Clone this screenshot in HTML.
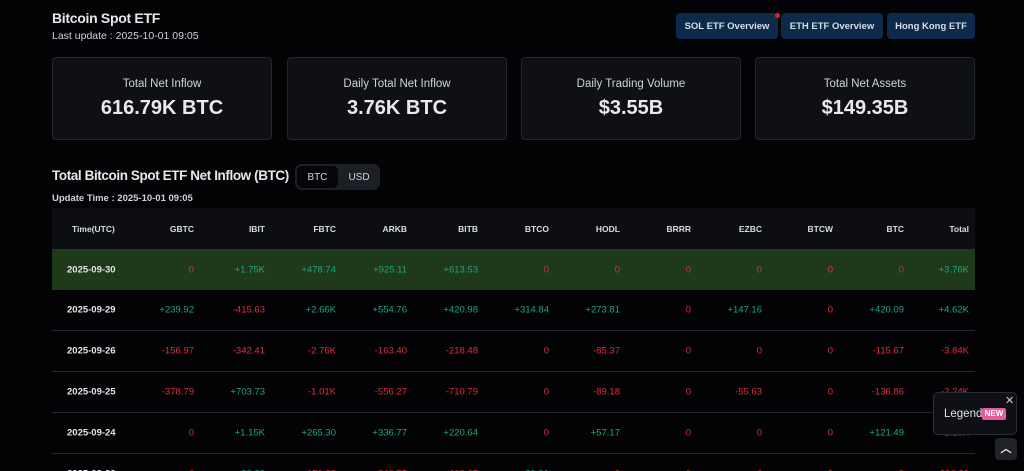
<!DOCTYPE html>
<html style="width:1024px;height:471px;overflow:hidden"><head><meta charset="utf-8"><style>
*{margin:0;padding:0;box-sizing:border-box}
body{width:1024px;height:471px;overflow:hidden;background:#030305;font-family:"Liberation Sans",sans-serif;color:#e6e8eb;position:relative}
.a{position:absolute}
.btn{position:absolute;top:13px;height:26px;background:#0d2a4a;border-radius:4px;color:#d6dde6;font-size:9.5px;font-weight:bold;display:flex;align-items:center;justify-content:center}
.card{position:absolute;top:57px;width:220px;height:83px;background:#0e1015;border:1px solid #23262c;border-radius:4px;text-align:center}
.card .l{margin-top:20px;font-size:11.5px;color:#cfd3d8}
.card .v{margin-top:7px;font-size:20px;font-weight:bold;color:#e8eaed}
.row{position:absolute;left:52px;width:923px;height:41px;border-bottom:1px solid #25272c;font-size:9.5px}
.row span{position:absolute;top:50%;transform:translateY(-50%);white-space:nowrap}
.g{color:#1fa57d}.r{color:#d8303c}.w{color:#e3e5e8;font-weight:bold}
.h span{color:#d8dbe0;font-weight:bold;font-size:8.5px}
</style></head><body>
<div class="a" style="left:52px;top:10px;font-size:14px;font-weight:bold;letter-spacing:-0.3px">Bitcoin Spot ETF</div>
<div class="a" style="left:52px;top:30px;font-size:10.5px;color:#cfd3d8">Last update : 2025-10-01 09:05</div>
<div class="btn" style="left:676px;width:102px">SOL ETF Overview</div>
<div class="a" style="left:775px;top:13px;width:5px;height:5px;border-radius:50%;background:#e0202c"></div>
<div class="btn" style="left:781px;width:102px">ETH ETF Overview</div>
<div class="btn" style="left:887px;width:88px">Hong Kong ETF</div>
<div class="card" style="left:52px"><div class="l">Total Net Inflow</div><div class="v">616.79K BTC</div></div>
<div class="card" style="left:287px"><div class="l">Daily Total Net Inflow</div><div class="v">3.76K BTC</div></div>
<div class="card" style="left:521px"><div class="l">Daily Trading Volume</div><div class="v">$3.55B</div></div>
<div class="card" style="left:755px"><div class="l">Total Net Assets</div><div class="v">$149.35B</div></div>
<div class="a" style="left:52px;top:168px;font-size:13.5px;font-weight:bold;letter-spacing:-0.4px;white-space:nowrap">Total Bitcoin Spot ETF Net Inflow (BTC)</div>
<div class="a" style="left:295px;top:164px;width:85px;height:26px;background:#1c1f25;border-radius:7px"></div>
<div class="a" style="left:297px;top:166px;width:41px;height:22px;background:#050608;border-radius:5px;font-size:10px;display:flex;align-items:center;justify-content:center;color:#d0d4da">BTC</div>
<div class="a" style="left:340px;top:166px;width:38px;height:22px;font-size:10px;display:flex;align-items:center;justify-content:center;color:#d0d4da">USD</div>
<div class="a" style="left:52px;top:193px;font-size:9.5px;color:#cfd3d8;font-weight:bold">Update Time : 2025-10-01 09:05</div>
<div id="t"></div>
<div class="a" style="left:933px;top:392px;width:84px;height:43px;background:#0e1015;border:1px solid #2a2d33;border-radius:5px"></div>
<div class="a" style="left:1005px;top:394px;font-size:11px;color:#cfd3d8">✕</div>
<div class="a" style="left:944px;top:408px;font-size:11.5px;color:#dfe2e6">Legend</div>
<div class="a" style="left:982px;top:408px;width:24px;height:12px;background:#e85a9a;border-radius:2px;font-size:8px;color:#fff;text-align:center;line-height:12px;font-weight:bold">NEW</div>
<div class="a" style="left:995px;top:438px;width:22px;height:22px;background:#1f2228;border-radius:4px;color:#e5e7ea;font-size:11px;text-align:center;line-height:22px;font-weight:bold">︿</div>
<script>
var cols=["GBTC","IBIT","FBTC","ARKB","BITB","BTCO","HODL","BRRR","EZBC","BTCW","BTC","Total"];
var rights=[194,265,336,407,478,549,620,691,762,833,904,969];
var rows=[["2025-09-30","0","+1.75K","+478.74","+925.11","+613.53","0","0","0","0","0","0","+3.76K"],
["2025-09-29","+239.92","-415.63","+2.66K","+554.76","+420.98","+314.84","+273.81","0","+147.16","0","+420.09","+4.62K"],
["2025-09-26","-156.97","-342.41","-2.76K","-163.40","-218.48","0","-85.37","0","0","0","-115.67","-3.84K"],
["2025-09-25","-378.79","+703.73","-1.01K","-556.27","-710.79","0","-89.18","0","-55.63","0","-136.86","-2.24K"],
["2025-09-24","0","+1.15K","+265.30","+336.77","+220.64","0","+57.17","0","0","0","+121.49","+2.18K"],
["2025-09-23","0","+20.30","-151.82","-240.55","-110.67","+31.91","0","0","0","0","0","-396.31"]];
var h='<div class="row h" style="top:208px;background:#0c0e12;border:none"><span style="left:20px">Time(UTC)</span>';
cols.forEach(function(c,i){h+='<span style="right:'+(975-rights[i])+'px">'+c+'</span>'});
h+='</div>';
rows.forEach(function(r,k){
 h+='<div class="row" style="top:'+(249+k*41)+'px;'+(k==5?'height:22px;overflow:hidden;border:none;':'')+(k==0?'background:#1e3a1a;border:none':'')+'"><span class="w" style="left:15px'+(k==5?';top:20px':'')+'">'+r[0]+'</span>';
 for(var i=1;i<r.length;i++){var v=r[i];var c=v[0]=='+'?'g':'r';h+='<span class="'+c+'" style="right:'+(975-rights[i-1])+'px'+(k==5?';top:20px':'')+'">'+v+'</span>'}
 h+='</div>';
});
document.getElementById('t').innerHTML=h;
</script>
</body></html>
